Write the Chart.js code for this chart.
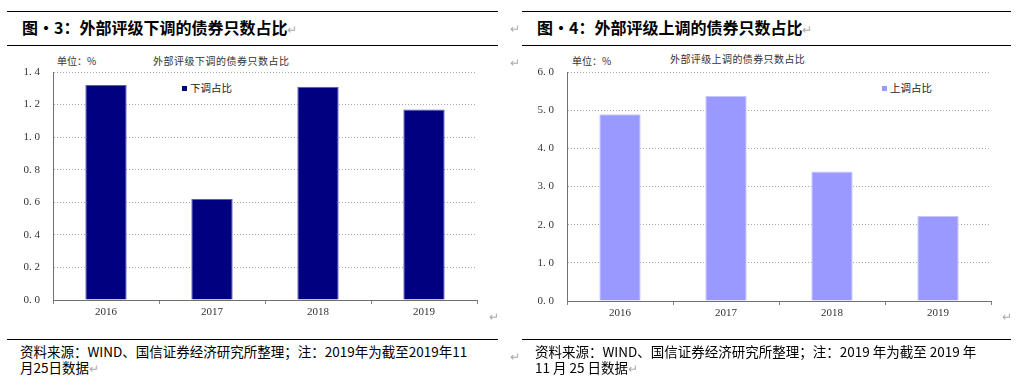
<!DOCTYPE html>
<html>
<head>
<meta charset="utf-8">
<script src="https://cdn.jsdelivr.net/npm/chart.js@4.4.1/dist/chart.umd.min.js"></script>
<style>
  body { margin: 0; background: #fff; width: 1018px; height: 380px; position: relative; overflow: hidden;
         font-family: "Noto Sans CJK SC", sans-serif; color: #000; }
  .abs { position: absolute; white-space: nowrap; }
  .rule { position: absolute; height: 1px; background: #000; }
  .fig-title { font-size: 16px; font-weight: bold; line-height: 20px; }
  .mark { color: #aaa; font-weight: normal; font-size: 12px; }
  .small { font-size: 10px; color: #333; line-height: 12px; }
  .src { font-size: 13.5px; line-height: 16px; }
  .legend { font-size: 10.5px; color: #222; line-height: 12px; }
  .legend i { display: inline-block; width: 5px; height: 5px; margin-right: 3px; vertical-align: middle; position: relative; top: -1px; }
  .box { position: absolute; }
</style>
</head>
<body>
  <!-- 左图：下调 -->
  <div class="rule" style="left:7px; top:11px; width:491px;"></div>
  <div class="abs fig-title" style="left:22px; top:17px;">图·3：外部评级下调的债券只数占比<span class="mark">↵</span></div>
  <div class="rule" style="left:7px; top:45px; width:491px;"></div>
  <div class="abs small" style="left:57px; top:55px;">单位：%</div>
  <div class="abs small" style="left:153px; top:55px; letter-spacing:0.5px;">外部评级下调的债券只数占比</div>
  <div class="abs legend" style="left:182px; top:82px;"><i style="background:#000080"></i>下调占比</div>
  <div class="box" style="left:0; top:0; width:509px; height:330px;"><canvas id="down-chart"></canvas></div>
  <div class="abs mark" style="left:489px; top:307px;">↵</div>
  <div class="rule" style="left:7px; top:339px; width:491px;"></div>
  <div class="abs src" style="left:20px; top:343px;">资料来源：WIND、国信证券经济研究所整理；注：2019年为截至2019年11<br>月25日数据<span class="mark">↵</span></div>

  <!-- 右图：上调 -->
  <div class="abs mark" style="left:510px; top:19px;">↵</div>
  <div class="rule" style="left:522px; top:11px; width:489px;"></div>
  <div class="abs fig-title" style="left:537px; top:17px;">图·4：外部评级上调的债券只数占比<span class="mark">↵</span></div>
  <div class="rule" style="left:522px; top:45px; width:489px;"></div>
  <div class="abs mark" style="left:510px; top:53px;">↵</div>
  <div class="abs small" style="left:572px; top:55px;">单位：%</div>
  <div class="abs small" style="left:670px; top:53px; letter-spacing:0.4px;">外部评级上调的债券只数占比</div>
  <div class="abs legend" style="left:882px; top:82px;"><i style="background:#9999ff"></i>上调占比</div>
  <div class="box" style="left:509px; top:0; width:509px; height:330px;"><canvas id="up-chart"></canvas></div>
  <div class="abs mark" style="left:1002px; top:307px;">↵</div>
  <div class="rule" style="left:522px; top:339px; width:489px;"></div>
  <div class="abs mark" style="left:510px; top:347px;">↵</div>
  <div class="abs src" style="left:535px; top:343px;">资料来源：WIND、国信证券经济研究所整理；注：2019 年为截至 2019 年<br>11 月 25 日数据<span class="mark">↵</span></div>

<script>
// Данные
const years      = ['2016', '2017', '2018', '2019'];
const downRatio  = [1.32, 0.62, 1.31, 1.17];   // 下调占比, %
const upRatio    = [4.89, 5.37, 3.39, 2.23];   // 上调占比, %
const downTicks  = { max: 1.4, step: 0.2, digits: 1 };
const upTicks    = { max: 6.0, step: 1.0, digits: 1 };

const tickFont = { family: '"Liberation Serif", "DejaVu Serif", serif', size: 11 };

// ── Построить столбчатый график ──────────────────────────────────
function buildChart(id, label, data, ticksCfg, color, edge, plot) {
  const canvas = document.getElementById(id);
  return new Chart(canvas, {
    type: 'bar',
    data: {
      labels: years,
      datasets: [{
        label: label,
        data: data,
        backgroundColor: color,
        borderColor: edge,
        borderWidth: 1,
        borderSkipped: 'bottom',
        categoryPercentage: 1.0,
        barPercentage: 0.39,
      }],
    },
    options: {
      responsive: true,
      maintainAspectRatio: false,
      animation: false,
      layout: { padding: { left: 0, top: plot.top, right: plot.right, bottom: 0 } },
      plugins: { legend: { display: false }, tooltip: { enabled: false } },
      scales: {
        x: {
          afterFit: (s) => { s.height = 330 - plot.bottom; },
          ticks: { font: tickFont, color: '#333', padding: 2 },
          grid: { drawOnChartArea: false, tickLength: 4, color: '#808080' },
          border: { color: '#707070', width: 1 },
        },
        y: {
          min: 0,
          max: ticksCfg.max,
          afterFit: (s) => { s.width = plot.left; },
          ticks: {
            stepSize: ticksCfg.step,
            font: tickFont,
            color: '#333',
            padding: 13,
            callback: (v) => Number(v).toFixed(ticksCfg.digits).replace('.', '. '),
          },
          grid: { drawTicks: false, color: '#a8a8a8', lineWidth: 1 },
          border: { color: '#707070', width: 1, dash: [1, 2] },  // пунктир сетки
        },
      },
    },
  });
}

buildChart('down-chart', '下调占比', downRatio, downTicks, '#000080', '#5a5ad0',
  { left: 53, right: 509 - 477, top: 72, bottom: 300 });
buildChart('up-chart', '上调占比', upRatio, upTicks, '#9999ff', '#c8c8ff',
  { left: 58, right: 509 - 482, top: 72, bottom: 301 });
</script>
</body>
</html>
